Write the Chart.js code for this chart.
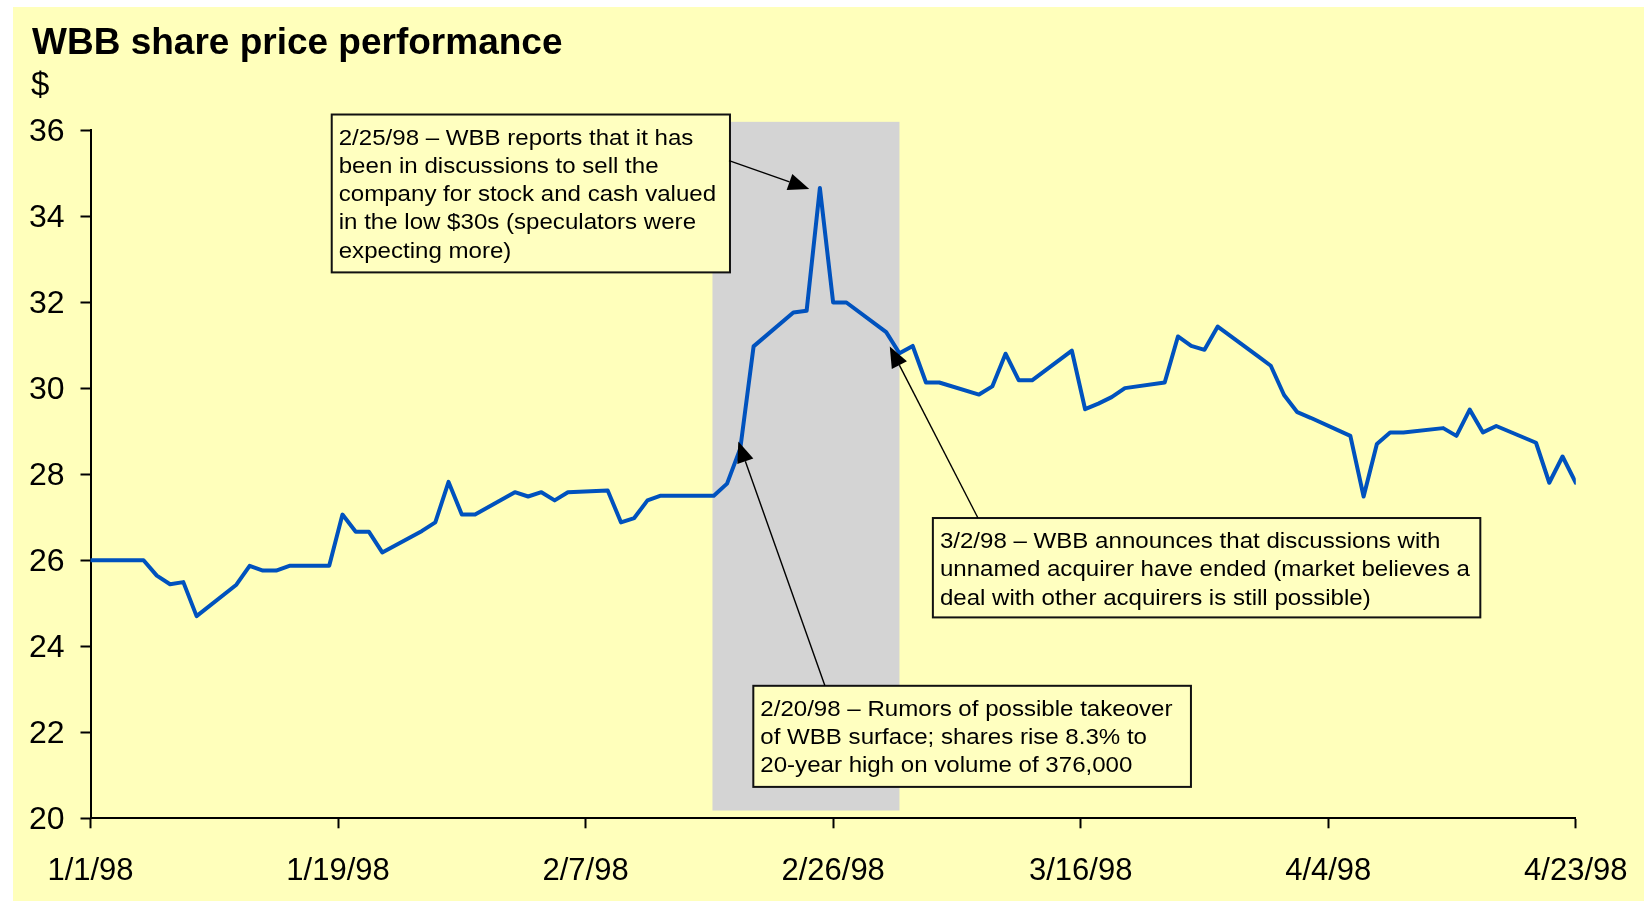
<!DOCTYPE html>
<html><head><meta charset="utf-8">
<script src="https://cdn.jsdelivr.net/npm/chart.js@4.4.0/dist/chart.umd.min.js"></script>
<style>html,body{margin:0;padding:0;background:#fff;}canvas{display:block;}</style>
</head><body>
<canvas id="c" width="1647" height="903"></canvas>
<script>
// ---- data ----
const tradeDates = ['1/1/98','1/2/98','1/5/98','1/6/98','1/7/98','1/8/98','1/9/98','1/12/98','1/13/98','1/14/98','1/15/98','1/16/98','1/19/98','1/20/98','1/21/98','1/22/98','1/23/98','1/26/98','1/27/98','1/28/98','1/29/98','1/30/98','2/2/98','2/3/98','2/4/98','2/5/98','2/6/98','2/9/98','2/10/98','2/11/98','2/12/98','2/13/98','2/17/98','2/18/98','2/19/98','2/20/98','2/23/98','2/24/98','2/25/98','2/26/98','2/27/98','3/2/98','3/3/98','3/4/98','3/5/98','3/6/98','3/9/98','3/10/98','3/11/98','3/12/98','3/13/98','3/16/98','3/17/98','3/18/98','3/19/98','3/20/98','3/23/98','3/24/98','3/25/98','3/26/98','3/27/98','3/30/98','3/31/98','4/1/98','4/2/98','4/3/98','4/6/98','4/7/98','4/8/98','4/9/98','4/10/98','4/13/98','4/14/98','4/15/98','4/16/98','4/17/98','4/20/98','4/21/98','4/22/98','4/23/98'];
const prices = [26.00,26.00,26.00,25.64,25.44,25.49,24.70,25.43,25.87,25.76,25.76,25.87,25.87,27.06,26.66,26.66,26.18,26.68,26.88,27.82,27.06,27.06,27.58,27.48,27.58,27.39,27.58,27.62,26.88,26.98,27.39,27.50,27.50,27.78,28.60,30.97,31.76,31.80,34.65,31.99,31.99,31.30,30.81,30.98,30.13,30.13,29.85,30.04,30.80,30.18,30.18,30.87,29.51,29.64,29.79,30.00,30.13,31.20,30.98,30.89,31.43,30.75,30.52,29.84,29.44,29.31,28.89,27.48,28.70,28.97,28.97,29.07,28.89,29.50,28.97,29.12,28.73,27.80,28.41,27.80];
const xTickLabels = ['1/1/98','1/19/98','2/7/98','2/26/98','3/16/98','4/4/98','4/23/98'];
const yMin = 20, yMax = 36, yStep = 2;
const chartTitle = 'WBB share price performance';
const yUnit = '$';
// shaded event window (x in days since 1/1/98, y in $)
const shadeX = [46.9, 61.0];
const shadeY = [20.18, 36.19];
// annotations: text, box [x0,yTop,x1,yBottom], arrow tail and tip (data units)
const noteTexts = [
  ['2/25/98 \u2013 WBB reports that it has','been in discussions to sell the','company for stock and cash valued','in the low $30s (speculators were','expecting more)'],
  ['3/2/98 \u2013 WBB announces that discussions with','unnamed acquirer have ended (market believes a','deal with other acquirers is still possible)'],
  ['2/20/98 \u2013 Rumors of possible takeover','of WBB surface; shares rise 8.3% to','20-year high on volume of 376,000']
];
const noteBoxes = [[18.19,36.36,48.22,32.69],[63.52,26.98,104.8,24.67],[49.98,23.08,82.98,20.73]];
const noteTails = [[48.15,35.29],[66.92,26.98],[55.38,23.08]];
const noteTips  = [[54.2,34.63],[60.27,30.97],[48.85,28.76]];

// ---- helpers ----
function dayOf(s){const p=s.split('/').map(Number);const y=p[2]<50?2000+p[2]:1900+p[2];return (Date.UTC(y,p[0]-1,p[1])-Date.UTC(1998,0,1))/86400000;}
const points = tradeDates.map((d,i)=>({x:dayOf(d),y:prices[i]}));
const xMin = dayOf(xTickLabels[0]), xMax = dayOf(xTickLabels[xTickLabels.length-1]);
const FONT = '"Liberation Sans", Arial, sans-serif';

const bgPlugin = {
  id:'bg',
  beforeDraw(chart){
    const c=chart.ctx; c.save();
    c.fillStyle='#ffffff'; c.fillRect(0,0,chart.width,chart.height);
    c.fillStyle='rgb(255,255,187)'; c.fillRect(13,7,1631,894);
    c.restore();
  },
  afterDraw(chart){
    const c=chart.ctx; c.save();
    c.fillStyle='#000'; c.textBaseline='alphabetic'; c.textAlign='left';
    c.font='bold 37px '+FONT; c.fillText(chartTitle,32,54);
    c.font='33px '+FONT; c.fillText(yUnit,31,95);
    c.restore();
  }
};
const shadePlugin = {
  id:'shade',
  beforeDatasetsDraw(chart){
    const x=chart.scales.x,y=chart.scales.y,c=chart.ctx; c.save();
    c.fillStyle='rgb(212,212,212)';
    const x0=x.getPixelForValue(shadeX[0]),x1=x.getPixelForValue(shadeX[1]);
    const y0=y.getPixelForValue(shadeY[1]),y1=y.getPixelForValue(shadeY[0]);
    c.fillRect(x0,y0,x1-x0,y1-y0); c.restore();
  }
};
const notesPlugin = {
  id:'notes',
  afterDatasetsDraw(chart){
    const xs=chart.scales.x,ys=chart.scales.y,c=chart.ctx;
    noteTexts.forEach((lines,i)=>{
      const b=noteBoxes[i];
      const L=xs.getPixelForValue(b[0]),T=ys.getPixelForValue(b[1]),R=xs.getPixelForValue(b[2]),B=ys.getPixelForValue(b[3]);
      c.save();
      c.fillStyle='rgb(255,255,192)'; c.fillRect(L,T,R-L,B-T);
      c.strokeStyle='#111'; c.lineWidth=2; c.strokeRect(L,T,R-L,B-T);
      c.fillStyle='#000'; c.font='22.5px '+FONT; c.textBaseline='middle'; c.textAlign='left';
      lines.forEach((t,j)=>{ c.save(); c.translate(L+7,T+24+j*28.2); c.scale(1.07,1); c.fillText(t,0,0); c.restore(); });
      // arrow
      const tx=xs.getPixelForValue(noteTails[i][0]),ty=ys.getPixelForValue(noteTails[i][1]);
      const px=xs.getPixelForValue(noteTips[i][0]),py=ys.getPixelForValue(noteTips[i][1]);
      const ang=Math.atan2(py-ty,px-tx),AL=21,AW=8.5;
      const bx=px-AL*Math.cos(ang),by=py-AL*Math.sin(ang);
      c.strokeStyle='#000'; c.lineWidth=1.4; c.beginPath(); c.moveTo(tx,ty); c.lineTo(bx,by); c.stroke();
      c.fillStyle='#000'; c.beginPath(); c.moveTo(px,py);
      c.lineTo(bx+AW*Math.sin(ang),by-AW*Math.cos(ang)); c.lineTo(bx-AW*Math.sin(ang),by+AW*Math.cos(ang)); c.closePath(); c.fill();
      c.restore();
    });
  }
};

const axisGrid = {drawOnChartArea:false,drawTicks:true,tickLength:10,tickWidth:2,tickColor:'#000'};
const axisBorder = {display:true,color:'#000',width:2};
new Chart(document.getElementById('c'),{
  type:'line',
  data:{datasets:[{data:points,borderColor:'rgb(0,82,190)',borderWidth:4,borderJoinStyle:'round',borderCapStyle:'round',pointRadius:0,tension:0,fill:false}]},
  options:{
    responsive:false,animation:false,devicePixelRatio:1,
    layout:{padding:{top:130,left:0,right:71.2,bottom:0}},
    plugins:{legend:{display:false},tooltip:{enabled:false},title:{display:false}},
    scales:{
      x:{type:'linear',min:xMin,max:xMax,
        afterBuildTicks(s){s.ticks=xTickLabels.map((l,i)=>({value:xMin+i*(xMax-xMin)/(xTickLabels.length-1)}));},
        ticks:{autoSkip:false,maxRotation:0,padding:25,color:'#000',font:{family:FONT,size:31},callback:(v,i)=>xTickLabels[i]},
        grid:axisGrid,border:axisBorder,
        afterFit(s){s.height=84.7;s.paddingLeft=0;s.paddingRight=0;}},
      y:{min:yMin,max:yMax,
        ticks:{stepSize:yStep,padding:16,labelOffset:2,color:'#000',font:{family:FONT,size:32}},
        grid:axisGrid,border:axisBorder,
        afterFit(s){s.width=90.5;s.paddingTop=0;s.paddingBottom=0;}}
    }
  },
  plugins:[bgPlugin,shadePlugin,notesPlugin]
});
</script>
</body></html>
